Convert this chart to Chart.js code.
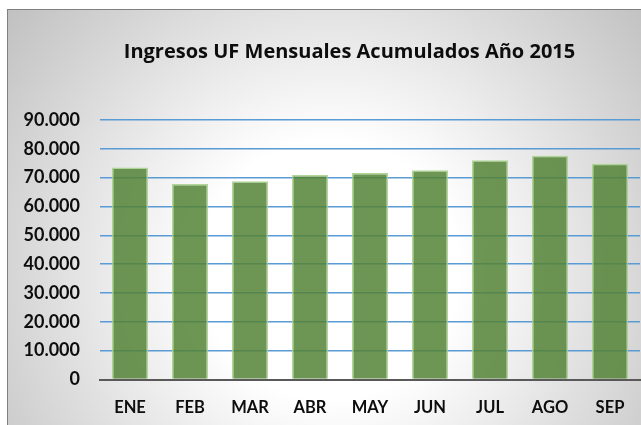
<!DOCTYPE html>
<html>
<head>
<meta charset="utf-8">
<script src="https://cdn.jsdelivr.net/npm/chart.js@4"></script>
<style>
html,body{margin:0;padding:0;background:#fff;overflow:hidden;}
#wrap{position:relative;width:641px;height:425px;}
</style>
</head>
<body>
<div id="wrap"><canvas id="c" width="641" height="425"></canvas></div>
<script>
const categories = ['ENE','FEB','MAR','ABR','MAY','JUN','JUL','AGO','SEP'];
const ingresos = [73500, 67800, 68800, 70900, 71600, 72600, 76000, 77600, 74800];
const yTicks = [0,10000,20000,30000,40000,50000,60000,70000,80000,90000];
const titleText = 'Ingresos UF Mensuales Acumulados Año 2015';

const bgPlugin = {
  id: 'bgFrame',
  afterLayout(chart) {
    if (chart.titleBlock) { chart.titleBlock.left = 0; chart.titleBlock.right = 699; }
  },
  beforeDraw(chart) {
    const ctx = chart.ctx;
    ctx.save();
    ctx.fillStyle = '#ffffff';
    ctx.fillRect(0, 0, chart.width, chart.height);
    const g = ctx.createRadialGradient(330, 270, 0, 330, 270, 430);
    g.addColorStop(0, '#ffffff');
    g.addColorStop(0.3, '#ffffff');
    g.addColorStop(1, '#bdbdbd');
    ctx.fillStyle = g;
    ctx.fillRect(8, 10, chart.width, chart.height);
    ctx.restore();
  },
  afterDraw(chart) {
    const ctx = chart.ctx;
    ctx.save();
    ctx.strokeStyle = '#7f7f7f';
    ctx.lineWidth = 1;
    ctx.strokeRect(7.5, 9.5, chart.width + 10, chart.height + 10);
    ctx.restore();
  }
};

const fmt = v => v === 0 ? '0' : v.toLocaleString('de-DE');

new Chart(document.getElementById('c'), {
  type: 'bar',
  data: {
    labels: categories,
    datasets: [{
      data: ingresos,
      backgroundColor: 'rgba(84,130,53,0.85)',
      borderColor: 'rgba(169,209,142,0.9)',
      borderWidth: 1.5,
      barPercentage: 0.6,
      categoryPercentage: 1
    }]
  },
  options: {
    responsive: false,
    animation: false,
    devicePixelRatio: 1,
    layout: { padding: { left: 0, right: 1, top: 0, bottom: 0 } },
    plugins: {
      legend: { display: false },
      tooltip: { enabled: false },
      title: {
        display: true,
        text: titleText,
        color: '#0d0d0d',
        font: { family: 'Open Sans', size: 20, weight: 'bold', lineHeight: 1.2 },
        padding: { top: 40, bottom: 56 }
      }
    },
    scales: {
      x: {
        grid: { display: false },
        border: { display: true, color: '#595959', width: 2 },
        ticks: { color: '#0d0d0d', padding: 10, font: { family: 'Lato', size: 16.5, weight: 'bold' } },
        afterFit(s) { s.height = 45.5; }
      },
      y: {
        min: 0, max: 90000,
        afterBuildTicks(s) { s.ticks = yTicks.map(v => ({ value: v })); },
        grid: { color: '#5b9bd5', lineWidth: 1.5, drawTicks: false },
        border: { display: false },
        ticks: { color: '#0d0d0d', padding: 20, font: { family: 'Lato', size: 18, weight: 'bold' }, callback: v => fmt(v) },
        afterFit(s) { s.width = 100; }
      }
    }
  },
  plugins: [bgPlugin]
});
</script>
</body>
</html>
